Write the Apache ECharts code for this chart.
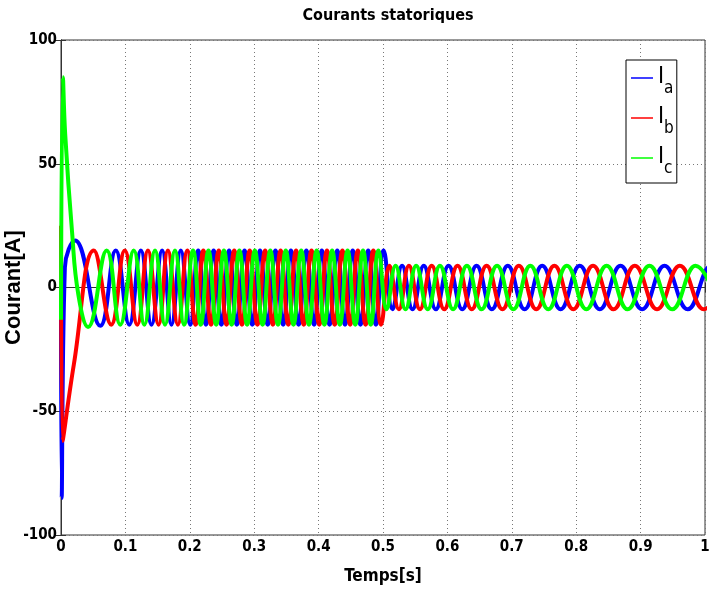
<!DOCTYPE html>
<html>
<head>
<meta charset="utf-8">
<script src="https://cdn.jsdelivr.net/npm/echarts@6/dist/echarts.min.js"></script>
<style>
html,body{margin:0;padding:0;background:#fff;}
#chart{width:710px;height:596px;}
</style>
</head>
<body>
<div id="chart"></div>
<script>
// ---- data ----
const seriesNames = ['Ia', 'Ib', 'Ic'];
const xTickLabels = ['0','0.1','0.2','0.3','0.4','0.5','0.6','0.7','0.8','0.9','1'];
const yTickLabels = ['-100','-50','0','50','100'];

// start-up transient (time [s], current [A])
const startA = [[0,-5],[0.001,-85],[0.006,8],[0.022,19],[0.061,-15.5]];
const startB = [[0,25],[0.0025,-62],[0.02,-31],[0.051,15],[0.078,-15]];
const startC = [[0,-13],[0.003,85],[0.0065,62],[0.017,23],[0.027,-3],[0.042,-16],[0.071,15]];

// times of successive extrema after start-up (order: Ia+, Ic-, Ib+, Ia-, Ic+, Ib-, ...)
const extremaTimes = [
0.085,0.092,0.099,0.106,0.113,0.1185,0.124,0.1295,0.135,0.1405,0.146,0.1515,0.157,0.1615,0.166,0.1715,0.177,0.1815,0.186,0.191,0.196,0.2005,0.205,0.209,0.213,
0.217,0.221,0.225,0.229,0.233,0.237,0.241,0.245,0.249,0.253,0.257,0.261,0.265,0.269,0.273,0.277,0.281,0.285,0.289,0.293,0.297,0.301,0.305,0.309,0.313,0.317,0.321,0.325,0.329,0.333,0.337,0.341,0.345,0.349,0.353,0.357,0.361,0.365,0.369,0.373,0.377,0.381,0.385,0.389,0.393,0.397,0.401,0.405,0.409,0.413,0.417,0.421,0.425,0.429,0.433,0.437,0.441,0.445,0.449,0.453,0.457,0.461,0.465,0.469,0.473,0.477,0.481,0.485,0.489,0.493,0.497,0.501,
0.5055,0.510,0.5148,0.5196,0.5247,0.5297,0.535,0.5403,0.5459,0.5515,0.5574,0.5633,0.5695,0.5756,0.582,0.5884,0.5951,0.6018,0.6088,0.6158,0.6231,0.6303,0.6378,0.6453,0.6531,0.6609,0.669,0.6771,0.6855,0.6938,0.7024,0.711,0.7199,0.7288,0.738,0.7472,0.7567,0.7661,0.7758,0.7855,0.7955,0.8055,0.8158,0.8261,0.8367,0.8472,0.858,0.8688,0.8799,0.891,0.9024,0.9138,0.9255,0.9371,0.949,0.9609,0.9731,0.9853,0.998,1.010,1.023,1.035,1.048
];
const extremaOrder = [[0,1],[2,-1],[1,1],[0,-1],[2,1],[1,-1]]; // [phase index, sign]
const amplitudeBefore = 15;   // A, before load step
const amplitudeAfter = 8.8;   // A, after load step
const stepTime = 0.502;       // s

// ---- build series ----
const phaseData = [startA.slice(), startB.slice(), startC.slice()];
extremaTimes.forEach((t, k) => {
  const [ph, sg] = extremaOrder[k % 6];
  const amp = t < stepTime ? amplitudeBefore : amplitudeAfter;
  phaseData[ph].push([t, sg * amp]);
});

const colors = ['#0000ff', '#ff0000', '#00ff00'];
const narrow = "'Liberation Sans Narrow','Arial Narrow','DejaVu Sans Condensed',sans-serif";

const chart = echarts.init(document.getElementById('chart'), null, {renderer: 'canvas'});
chart.setOption({
  animation: false,
  backgroundColor: '#ffffff',
  title: {
    text: 'Courants statoriques',
    left: 383, top: 3, textAlign: 'center',
    textStyle: {fontFamily: narrow, fontWeight: 'bold', fontSize: 16, color: '#000'}
  },
  grid: {left: 61, right: 5, top: 40, bottom: 61, show: true, borderColor: '#333', borderWidth: 1,
    backgroundColor: '#fff', containLabel: false, outerBoundsMode: 'none'},
  legend: {
    orient: 'vertical', left: 626, top: 60,
    backgroundColor: '#fff', borderColor: '#000', borderWidth: 1,
    padding: [6, 3, 6, 5], itemGap: 9, itemWidth: 22, itemHeight: 1.5, icon: 'rect',
    formatter: n => '{i|I}{s|' + n.charAt(1) + '}',
    textStyle: {
      rich: {
        i: {fontFamily: narrow, fontSize: 23, lineHeight: 24, verticalAlign: 'top', color: '#000'},
        s: {fontFamily: narrow, fontSize: 17, lineHeight: 19, padding: [14, 0, 0, 0], verticalAlign: 'top', color: '#000'}
      }
    },
    data: seriesNames
  },
  xAxis: [{
    type: 'value', min: 0, max: 1, interval: 0.1,
    name: 'Temps[s]', nameLocation: 'middle', nameGap: 33,
    nameTextStyle: {fontFamily: narrow, fontWeight: 'bold', fontSize: 17, color: '#000'},
    axisLine: {show: true, lineStyle: {color: '#333'}},
    axisTick: {show: true, inside: true, length: 5, lineStyle: {color: '#333'}},
    axisLabel: {fontFamily: narrow, fontWeight: 'bold', fontSize: 15, color: '#000', margin: 5,
      formatter: v => xTickLabels[Math.round(v * 10)]},
    splitLine: {show: true, lineStyle: {color: '#777', type: [1, 3], width: 1}}
  }, {
    type: 'value', min: 0, max: 1, interval: 0.1, position: 'top',
    axisLine: {show: true, lineStyle: {color: '#333'}},
    axisTick: {show: true, inside: true, length: 5, lineStyle: {color: '#333'}},
    axisLabel: {show: false}, splitLine: {show: false}
  }],
  yAxis: [{
    type: 'value', min: -100, max: 100, interval: 50,
    name: 'Courant[A]', nameLocation: 'middle', nameGap: 36, nameMoveOverlap: false,
    nameTextStyle: {fontFamily: "'Liberation Sans',Arial,sans-serif", fontWeight: 'bold', fontSize: 22, color: '#000'},
    axisLine: {show: true, lineStyle: {color: '#333'}},
    axisTick: {show: true, inside: true, length: 5, lineStyle: {color: '#333'}},
    axisLabel: {fontFamily: narrow, fontWeight: 'bold', fontSize: 15, color: '#000', margin: 4,
      formatter: v => yTickLabels[Math.round((v + 100) / 50)]},
    splitLine: {show: true, lineStyle: {color: '#777', type: [1, 3], width: 1}}
  }, {
    type: 'value', min: -100, max: 100, interval: 50, position: 'right',
    axisLine: {show: true, lineStyle: {color: '#333'}},
    axisTick: {show: true, inside: true, length: 5, lineStyle: {color: '#333'}},
    axisLabel: {show: false}, splitLine: {show: false}
  }],
  series: seriesNames.map((n, i) => ({
    name: n, type: 'line', data: phaseData[i],
    symbol: 'none', showSymbol: false, smooth: 0.45, clip: true,
    itemStyle: {color: colors[i]},
    lineStyle: {color: colors[i], width: 4},
    z: 2 + i
  }))
});
</script>
</body>
</html>
